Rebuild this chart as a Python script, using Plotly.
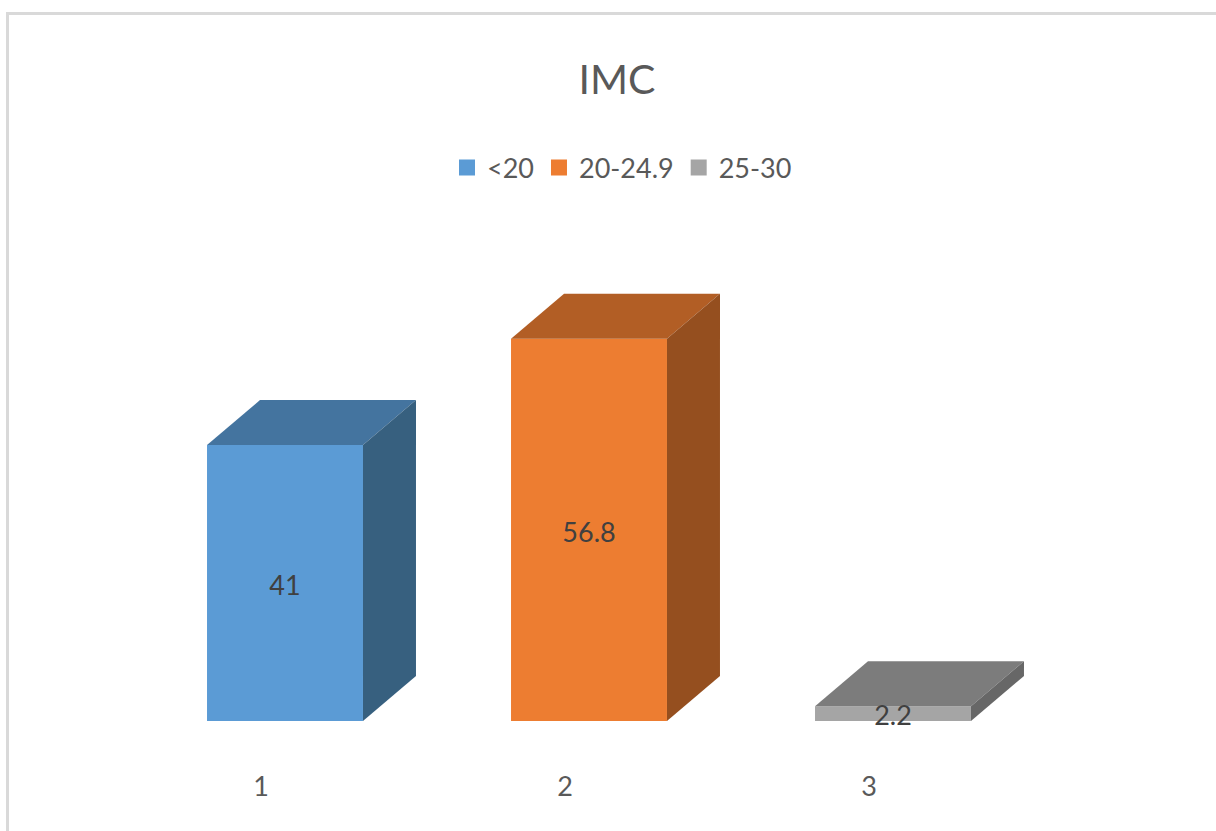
import plotly.graph_objects as go

categories = [1, 2, 3]
series_names = ["<20", "20-24.9", "25-30"]
values = [41, 56.8, 2.2]
tick_labels = ["1", "2", "3"]

front_colors = ["#5B9BD5", "#ED7D31", "#A5A5A5"]
top_colors = ["#44749F", "#B25E25", "#7C7C7C"]
side_colors = ["#37607F", "#954F1F", "#676767"]

W, H = 1216, 831
BAR_W = 0.513
Y_SCALE = 6.73
DEPTH_X = 53 / 304
DEPTH_Y = 45 / Y_SCALE
LABEL_DROP = 5 / Y_SCALE
TEXT = "#595959"
FONT = "Lato"

fig = go.Figure()
for c, v, col in zip(categories, values, front_colors):
    fig.add_trace(go.Bar(x=[c], y=[v], width=BAR_W, marker=dict(color=col, line=dict(width=0)),
                         showlegend=False, hoverinfo="skip"))

for c, v, tc, sc in zip(categories, values, top_colors, side_colors):
    l, r = c - BAR_W / 2, c + BAR_W / 2
    fig.add_trace(go.Scatter(x=[l, r, r + DEPTH_X, l + DEPTH_X, l], y=[v, v, v + DEPTH_Y, v + DEPTH_Y, v],
                             mode="lines", fill="toself", fillcolor=tc, line=dict(width=0),
                             showlegend=False, hoverinfo="skip"))
    fig.add_trace(go.Scatter(x=[r, r + DEPTH_X, r + DEPTH_X, r, r], y=[0, DEPTH_Y, v + DEPTH_Y, v, 0],
                             mode="lines", fill="toself", fillcolor=sc, line=dict(width=0),
                             showlegend=False, hoverinfo="skip"))

fig.add_trace(go.Scatter(x=categories, y=[v / 2 - LABEL_DROP for v in values], mode="text",
                         text=[str(v) for v in values],
                         textposition="middle center",
                         textfont=dict(family=FONT, size=27, color="#404040"),
                         showlegend=False, hoverinfo="skip"))

for name, col in zip(series_names, front_colors):
    fig.add_trace(go.Scatter(x=[None], y=[None], mode="markers", name=name,
                             marker=dict(symbol="square", size=16, color=col)))

B = 760
fig.update_layout(
    width=W, height=H, autosize=False,
    margin=dict(l=0, r=0, t=0, b=H - B, pad=0),
    paper_bgcolor="white", plot_bgcolor="white",
    barmode="overlay",
    title=dict(text="IMC", x=617 / W, xanchor="center", xref="paper",
               y=1 - 80 / H, yanchor="middle", yref="container",
               font=dict(family=FONT, size=41, color=TEXT)),
    legend=dict(orientation="h", x=447 / W, xanchor="left", y=1 - 168 / B, yanchor="middle",
                font=dict(family=FONT, size=27, color=TEXT), bgcolor="rgba(0,0,0,0)",
                itemclick=False, itemdoubleclick=False),
    xaxis=dict(range=[1 - 285 / 304, 1 + (W - 285) / 304], showgrid=False, zeroline=False, showline=False,
               tickmode="array", tickvals=[c - 24 / 304 for c in categories], ticktext=tick_labels,
               ticks="outside", ticklen=3, tickcolor="rgba(0,0,0,0)",
               tickfont=dict(family=FONT, size=27, color=TEXT), fixedrange=True),
    yaxis=dict(range=[(721 - B) / Y_SCALE, 721 / Y_SCALE], visible=False, fixedrange=True),
    shapes=[
        dict(type="line", xref="paper", yref="paper", x0=7.5 / W, x1=7.5 / W, y0=(B - H) / B, y1=(B - 12) / B,
             line=dict(color="#D9D9D9", width=3), layer="below"),
        dict(type="line", xref="paper", yref="paper", x0=6 / W, x1=1, y0=(B - 13.5) / B, y1=(B - 13.5) / B,
             line=dict(color="#D9D9D9", width=3), layer="below"),
    ],
)
fig.write_html("out.html", config={"displayModeBar": False},
               post_script="document.body.style.margin='0';document.documentElement.style.overflow='hidden';")
